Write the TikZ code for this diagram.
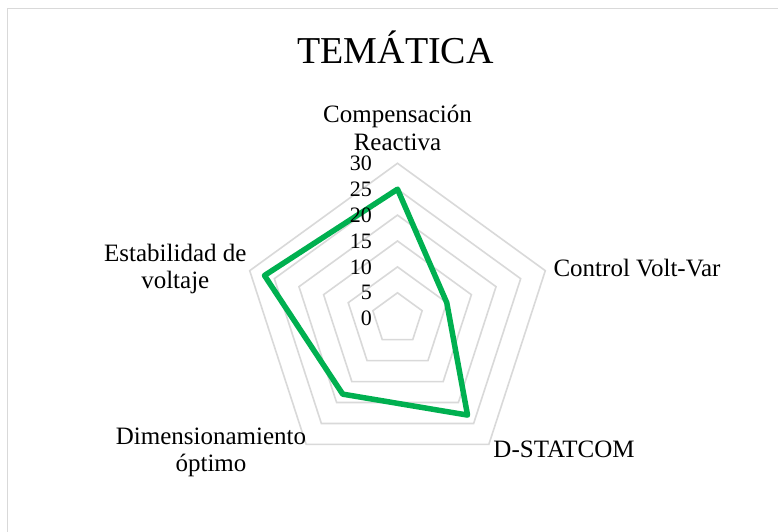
\documentclass[tikz,border=0pt]{standalone}
\usepackage{fontspec}
\setmainfont{Liberation Serif}
\definecolor{gridc}{HTML}{D9D9D9}
\definecolor{series}{HTML}{00B050}
\begin{document}
\begin{tikzpicture}[x=1pt,y=-1pt,
  lbl/.style={font=\fontsize{25}{27.5}\selectfont, inner sep=0pt, align=center},
  ticklbl/.style={font=\fontsize{22}{26}\selectfont, inner sep=0pt, anchor=east},
  ring/.style={draw=gridc, line width=1.6pt, line join=miter},
  serie/.style={draw=series, line width=5.5pt, line join=round, line cap=round}]
\useasboundingbox (0,0) rectangle (778,532);
\fill[white] (0,0) rectangle (778,532);
% chart area border (left and top visible)
\draw[gridc, line width=1.8pt] (7.5,532) -- (7.5,8.5) -- (778,8.5);
% title
\node[font=\fontsize{38}{40}\selectfont, inner sep=0pt, anchor=base] (title) at (395.5,64) {TEMÁTICA};
\begin{scope}[shift={(397.5,318.7)}]
  \coordinate (C) at (0,0);
  % grid rings
  \foreach \k in {1,...,6}{
    \pgfmathsetmacro{\rr}{\k*25.9}
    \draw[ring] (-90:\rr) -- (-18:\rr) -- (54:\rr) -- (126:\rr) -- (198:\rr) -- cycle;
  }
  % data
  \coordinate (CR) at (-90:129.5);
  \coordinate (CV) at (-18:51.8);
  \coordinate (DS) at (54:119.14);
  \coordinate (DO) at (126:93.24);
  \coordinate (ES) at (198:139.86);
  \draw[serie] (CR) -- (CV) -- (DS) -- (DO) -- (ES) -- cycle;
  % tick labels
  \foreach \k/\v in {0/0,1/5,2/10,3/15,4/20,5/25,6/30}{
    \node[ticklbl] (t\v) at (-25.5,-\k*25.9) {\v};
  }
\end{scope}
% category labels (base = baseline of last line)
\node[lbl, anchor=base] (lcr) at (397.5,150) {Compensación\\Reactiva};
\node[lbl, anchor=base] (lcv) at (637,276) {Control Volt-Var};
\node[lbl, anchor=base] (lds) at (564,457) {D-STATCOM};
\node[lbl, anchor=base] (ldo) at (211,471.5) {Dimensionamiento\\óptimo};
\node[lbl, anchor=base] (les) at (175.3,288.5) {Estabilidad de\\voltaje};
\end{tikzpicture}
\end{document}
